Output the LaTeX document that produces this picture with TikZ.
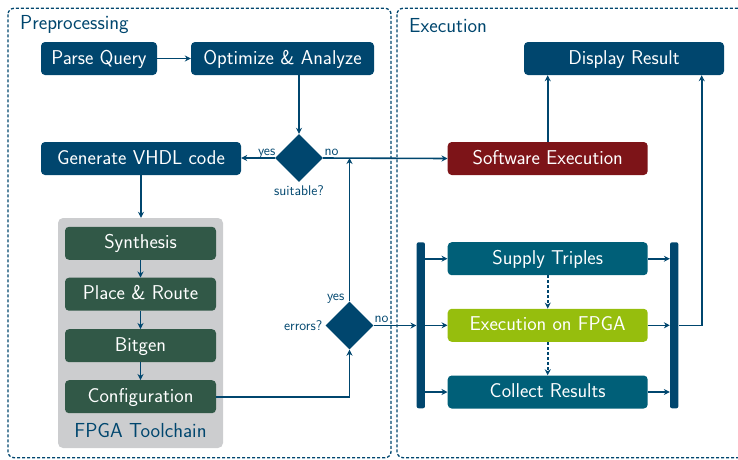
\documentclass[tikz,border=0pt]{standalone}
\usepackage{fontspec}
\usetikzlibrary{shapes.geometric,arrows.meta,calc}
\definecolor{cblue}{HTML}{00466E}
\definecolor{cred}{HTML}{7D1418}
\definecolor{cgreen}{HTML}{315847}
\definecolor{cteal}{HTML}{005F78}
\definecolor{clime}{HTML}{96BE0D}
\definecolor{cgray}{HTML}{CCCDCF}
\tikzset{
  box/.style={rectangle, rounded corners=4pt, fill=cblue, text=white, inner sep=0pt,
    minimum height=33pt, text height=14pt, text depth=3pt,
    font=\sffamily\fontsize{20}{22}\selectfont},
  tbox/.style={box, fill=cgreen, minimum width=151pt},
  ebox/.style={box, fill=cteal, minimum width=200pt},
  dia/.style={diamond, fill=cblue, inner sep=0pt, minimum width=48pt, minimum height=48pt},
  bar/.style={rectangle, rounded corners=2pt, fill=cblue, inner sep=0pt, minimum width=8.3pt, minimum height=166pt},
  arr/.style={draw=cblue, line width=1.6pt, -{Stealth[length=6pt,width=6pt]}},
  dasharr/.style={arr, dash pattern=on 3pt off 2pt},
  frame/.style={draw=cblue, line width=1.3pt, dash pattern=on 3pt off 2pt, rounded corners=6pt},
  small/.style={text=cblue, inner sep=0pt, font=\sffamily\fontsize{14}{16}\selectfont},
  head/.style={text=cblue, inner sep=0pt, font=\sffamily\fontsize{20.3}{22}\selectfont},
}
\begin{document}
\begin{tikzpicture}[x=1pt,y=-1pt]
\useasboundingbox (0,0) rectangle (738,459);
% frames
\draw[frame] (8,8.3) rectangle (391,457.7);
\draw[frame] (397,8.3) rectangle (750,457.7);
\node[head, anchor=base west] (hpre) at (20,29.3) {Preprocessing};
\node[head, anchor=base west] (hexe) at (409,32.3) {Execution};
% preprocessing nodes
\node[box, minimum width=116pt] (pq) at (99,58.5) {Parse Query};
\node[box, minimum width=183pt] (oa) at (282.5,58.5) {Optimize \& Analyze};
\node[dia] (suit) at (299,158) {};
\node[box, minimum width=200pt] (gen) at (141,158.5) {Generate VHDL code};
% toolchain
\node[rectangle, rounded corners=5pt, fill=cgray, minimum width=165pt, minimum height=230pt, inner sep=0pt] (tc) at (140.5,333) {};
\node[tbox] (syn) at (140.5,243.3) {Synthesis};
\node[tbox] (pr) at (140.5,294.2) {Place \& Route};
\node[tbox] (bit) at (140.5,345.7) {Bitgen};
\node[tbox] (conf) at (140.5,396.7) {Configuration};
\node[head, anchor=base] (tcl) at (140.5,437) {FPGA Toolchain};
\node[dia] (err) at (349.5,325.5) {};
% execution nodes
\node[box, minimum width=200pt] (dr) at (624,58.5) {Display Result};
\node[box, fill=cred, minimum width=200pt] (sw) at (547.7,158.5) {Software Execution};
\node[ebox] (st) at (547.7,258.7) {Supply Triples};
\node[ebox, fill=clime] (ef) at (547.7,325.3) {Execution on FPGA};
\node[ebox] (cr) at (547.7,392) {Collect Results};
\node[bar] (lb) at (420.8,325.3) {};
\node[bar] (rb) at (674.2,325.3) {};
% labels
\node[small, anchor=base east] (lyes1) at (275.5,155) {yes};
\node[small, anchor=base west] (lno1) at (324.5,155) {no};
\node[small, anchor=base] (lsuit) at (299,195) {suitable?};
\node[small, anchor=base east] (lyes2) at (344.5,300) {yes};
\node[small, anchor=base east] (lerr) at (322.5,330) {errors?};
\node[small, anchor=base west] (lno2) at (374.5,322.5) {no};
% connectors
\draw[arr] (pq) -- (oa);
\draw[arr] (oa.south -| suit.north) -- (suit.north);
\draw[arr] (suit.west) -- (suit.west -| gen.east);
\draw[arr] (suit.east) -- (sw.west);
\draw[arr] (gen.south) -- (gen.south |- tc.north);
\draw[arr] (syn) -- (pr);
\draw[arr] (pr) -- (bit);
\draw[arr] (bit) -- (conf);
\draw[arr] (conf.east) -| (err.south);
\draw[arr] (err.north) -- (err.north |- suit.east);
\draw[arr] (err.east) -- (err.east -| lb.west);
\draw[arr] (lb.east |- st.west) -- (st.west);
\draw[arr] (lb.east |- ef.west) -- (ef.west);
\draw[arr] (lb.east |- cr.west) -- (cr.west);
\draw[arr] (st.east) -- (st.east -| rb.west);
\draw[arr] (ef.east) -- (ef.east -| rb.west);
\draw[arr] (cr.east) -- (cr.east -| rb.west);
\draw[dasharr] (st) -- (ef);
\draw[dasharr] (ef) -- (cr);
\coordinate (c1) at (701.7,325.3);
\draw[arr] (rb.east) -- (c1) -- (c1 |- dr.south);
\draw[arr] (sw.north) -- (sw.north |- dr.south);
\end{tikzpicture}
\end{document}
